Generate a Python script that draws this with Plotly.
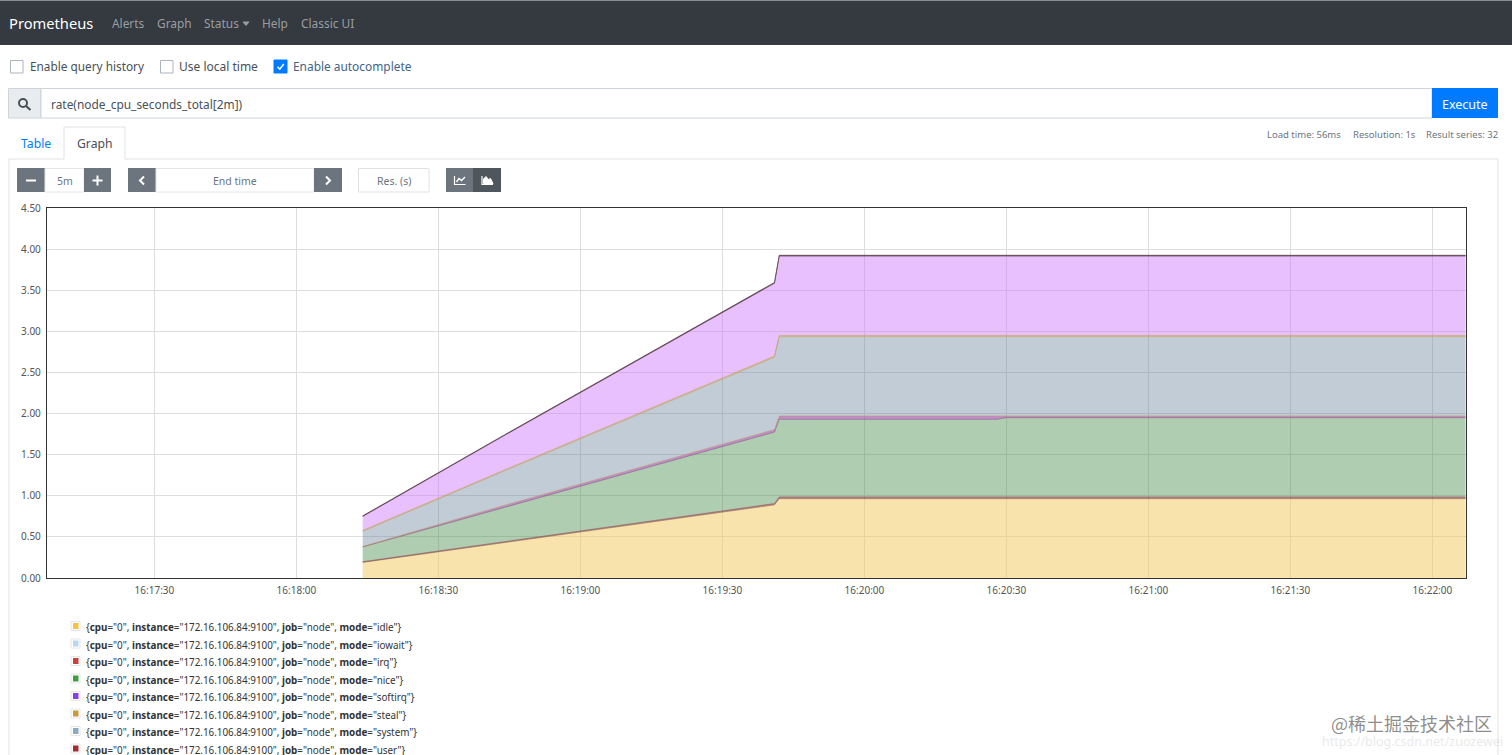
import plotly.graph_objects as go

W = 1512
H = 755
UI_FONT = "Noto Sans"

# stacked series, each list is the height of that band at the matching time
times = ["16:18:14", "16:18:44", "16:19:41", "16:19:42", "16:20:28", "16:20:30", "16:22:07"]
idle_0 = [0.19, 0.43, 0.89, 0.965, 0.965, 0.965, 0.965]
rest_0 = [0.008, 0.01, 0.015, 0.02, 0.02, 0.02, 0.02]
idle_1 = [0.18, 0.42, 0.87, 0.945, 0.945, 0.965, 0.965]
rest_1 = [0.005, 0.025, 0.03, 0.04, 0.04, 0.02, 0.02]
idle_2 = [0.185, 0.42, 0.88, 0.965, 0.965, 0.965, 0.965]
rest_2 = [0.01, 0.01, 0.015, 0.015, 0.015, 0.015, 0.015]
idle_3 = [0.17, 0.42, 0.885, 0.965, 0.965, 0.965, 0.965]
rest_3 = [0.008, 0.008, 0.01, 0.01, 0.01, 0.01, 0.01]

band_names = ["cpu0 idle", "cpu0 other", "cpu1 idle", "cpu1 other",
              "cpu2 idle", "cpu2 other", "cpu3 idle", "cpu3 other"]
band_values = [idle_0, rest_0, idle_1, rest_1, idle_2, rest_2, idle_3, rest_3]
band_fills = ["rgba(241,200,90,0.5)", "rgba(150,60,70,0.6)",
              "rgba(70,140,75,0.43)", "rgba(170,90,190,0.7)",
              "rgba(105,130,155,0.41)", "rgba(200,150,70,0.6)",
              "rgba(205,115,250,0.45)", "rgba(90,40,60,0.8)"]
band_lines = ["#8a6a50", "#8a4a50", "#7a5a70", "#b89a60",
              "#b8a070", "#c0a070", "#5a4050", "#4a3040"]

y_ticks = [0, 0.5, 1, 1.5, 2, 2.5, 3, 3.5, 4, 4.5]
y_tick_text = ["0.00", "0.50", "1.00", "1.50", "2.00", "2.50", "3.00", "3.50", "4.00", "4.50"]
x_start = "2021-06-01 16:17:07.3"
x_end = "2021-06-01 16:22:07.1"

legend_modes = ["idle", "iowait", "irq", "nice", "softirq", "steal", "system", "user"]
legend_colors = ["#f5c242", "#b8d8f0", "#c94040", "#3f9e3f", "#8a3ee8", "#c99a3a", "#8aaabf", "#a02b30"]


def px(x):
    return x / W


def py(y):
    return 1 - y / H


shapes = []
notes = []


def rect(x0, y0, x1, y1, fill="rgba(0,0,0,0)", line=None, width=1):
    shapes.append(dict(type="rect", xref="paper", yref="paper",
                       x0=px(x0), x1=px(x1), y0=py(y0), y1=py(y1), fillcolor=fill,
                       line=dict(color=line or "rgba(0,0,0,0)", width=width if line else 0)))


def path(points, color="rgba(0,0,0,0)", width=1, fill="rgba(0,0,0,0)", close=False):
    d = "M" + " L".join(f"{px(a):.5f},{py(b):.5f}" for a, b in points)
    if close:
        d += " Z"
    shapes.append(dict(type="path", xref="paper", yref="paper", path=d,
                       fillcolor=fill, line=dict(color=color, width=width)))


def text(x, y, s, size=12, color="#495057", anchor="left", family=UI_FONT):
    notes.append(dict(xref="paper", yref="paper", x=px(x), y=py(y), text=s, showarrow=False,
                      xanchor=anchor, yanchor="middle", align=anchor,
                      font=dict(size=size, color=color, family=family),
                      borderpad=0, borderwidth=0))


# navbar
rect(0, 0, W, 45, fill="#343a40")
rect(0, 0, W, 1, fill="#8a8d90")
text(9, 22.5, "Prometheus", size=14.7, color="#ffffff")
for label, x in [("Alerts", 112), ("Graph", 157), ("Status", 204), ("Help", 262), ("Classic UI", 301)]:
    text(x, 23.5, label, size=11.9, color="#9a9da0")
path([(243, 22), (249, 22), (246, 25.5)], color="#9a9da0", fill="#9a9da0", close=True)

# checkboxes
rect(10.5, 60.5, 23, 73, fill="#ffffff", line="#adb5bd")
text(30, 66.5, "Enable query history", size=11.8, color="#495057")
rect(160.5, 60.5, 173, 73, fill="#ffffff", line="#adb5bd")
text(179, 66.5, "Use local time", size=12, color="#495057")
rect(274, 60, 287, 73, fill="#007bff", line="#007bff")
path([(277.5, 66.8), (279.8, 69.2), (283.8, 64)], color="#ffffff", width=1.5)
text(293, 66.5, "Enable autocomplete", size=11.9, color="#3f6389")

# query box
rect(8.5, 88.5, 41, 118, fill="#e9ecef", line="#ced4da")
rect(41, 88.5, 1432, 118, fill="#ffffff", line="#ced4da")
shapes.append(dict(type="circle", xref="paper", yref="paper", x0=px(19), x1=px(27),
                   y0=py(99), y1=py(107), line=dict(color="#495057", width=2)))
path([(26, 106), (30.5, 110)], color="#495057", width=2.2)
text(51, 104, "rate(node_cpu_seconds_total[2m])", size=11.9, color="#495057")
rect(1432, 88, 1498, 118, fill="#007bff")
text(1465, 104, "Execute", size=12.5, color="#ffffff", anchor="center")

# tabs and panel
path([(9, H), (9, 159), (64, 159), (64, 127), (125, 127), (125, 159), (1498, 159), (1498, H)],
     color="#dee2e6")
text(36, 143.5, "Table", size=12.2, color="#007bff", anchor="center")
text(95, 143.5, "Graph", size=12.2, color="#495057", anchor="center")
text(1267, 134.5, "Load time: 56ms", size=9.5, color="#6c757d")
text(1353, 134.5, "Resolution: 1s", size=9.5, color="#6c757d")
text(1498, 134.5, "Result series: 32", size=9.5, color="#6c757d", anchor="right")

# graph controls
GREY = "#6c757d"
rect(17, 168, 45, 192, fill=GREY)
path([(26, 180.5), (36, 180.5)], color="#ffffff", width=2)
rect(45, 168.5, 84, 192, fill="#ffffff", line="#e3e6e8")
text(64.5, 181, "5m", size=10.5, color="#6c757d", anchor="center")
rect(84, 168, 111, 192, fill=GREY)
path([(92.5, 180.5), (102.5, 180.5)], color="#ffffff", width=2)
path([(97.5, 175.5), (97.5, 185.5)], color="#ffffff", width=2)
rect(128, 168, 156, 192, fill=GREY)
path([(144, 176.5), (140, 180.5), (144, 184.5)], color="#ffffff", width=2)
rect(156, 168.5, 314, 192, fill="#ffffff", line="#e3e6e8")
text(235, 181, "End time", size=10.5, color="#6c757d", anchor="center")
rect(314, 168, 342, 192, fill=GREY)
path([(326, 176.5), (330, 180.5), (326, 184.5)], color="#ffffff", width=2)
rect(358.5, 168.5, 429, 192, fill="#ffffff", line="#dfe2e5")
text(394, 181, "Res. (s)", size=10.5, color="#6c757d", anchor="center")
rect(446, 168, 473, 192, fill=GREY)
rect(473, 168, 501, 192, fill="#4f565c")
path([(454.5, 176), (454.5, 184.5), (465.5, 184.5)], color="#ffffff", width=1.2)
path([(456.5, 182), (459, 178.5), (461.5, 180.5), (465, 177)], color="#ffffff", width=1.4)
path([(482, 176), (482, 184.5), (493, 184.5)], color="#ffffff", width=1.2)
path([(483.5, 183.5), (483.5, 179), (486, 176.5), (488.5, 179.5), (490.5, 178.5), (493, 183.5)],
     color="#ffffff", fill="#ffffff", close=True)

# legend rows
for i, mode in enumerate(legend_modes):
    row_y = 626.5 + i * 17.5
    rect(71, row_y - 5, 80, row_y + 4, fill="#ffffff", line="#e6e6e6")
    rect(73, row_y - 3.5, 78.5, row_y + 2.5, fill=legend_colors[i])
    label = ('{<b>cpu</b>="0", <b>instance</b>="172.16.106.84:9100", '
             f'<b>job</b>="node", <b>mode</b>="{mode}"}}')
    text(86, row_y + 0.5, label, size=9.85, color="#333333")

# watermark
text(1492, 723, "@稀土掘金技术社区", size=18, color="rgba(120,120,120,0.85)", anchor="right",
     family="Noto Sans CJK SC")
text(1503, 741, "https://blog.csdn.net/zuozewei", size=12.5, color="rgba(190,190,190,0.35)", anchor="right")

fig = go.Figure()
for name, values, fill, line in zip(band_names, band_values, band_fills, band_lines):
    fig.add_trace(go.Scatter(x=[f"2021-06-01 {t}" for t in times], y=values, name=name, mode="lines",
                             stackgroup="one", fillcolor=fill, line=dict(color=line, width=0.6)))

fig.update_layout(
    width=W, height=H, margin=dict(l=0, r=0, t=0, b=0, pad=0, autoexpand=False),
    paper_bgcolor="#ffffff", plot_bgcolor="#ffffff",
    showlegend=False, shapes=shapes, annotations=notes,
    font=dict(family=UI_FONT, size=10, color="#555555"),
    xaxis=dict(domain=[px(47), px(1466)], type="date", range=[x_start, x_end],
               tick0="2021-06-01 16:17:30", dtick=30000, tickformat="%H:%M:%S",
               showgrid=True, gridcolor="#dedede", gridwidth=1, zeroline=False,
               showline=True, linecolor="#333333", linewidth=1.3, mirror=True,
               ticks="outside", ticklen=3, tickcolor="rgba(0,0,0,0)",
               tickfont=dict(size=10, color="#555555")),
    yaxis=dict(domain=[py(578), py(208)], range=[0, 4.5], tickvals=y_ticks, ticktext=y_tick_text,
               showgrid=True, gridcolor="#dedede", gridwidth=1, zeroline=False,
               showline=True, linecolor="#333333", linewidth=1.3, mirror=True,
               ticks="outside", ticklen=3, tickcolor="rgba(0,0,0,0)",
               tickfont=dict(size=10, color="#555555")),
)

fig.write_html("out.html", config=dict(displayModeBar=False),
               post_script="document.body.style.margin='0';document.body.style.overflow='hidden';")
